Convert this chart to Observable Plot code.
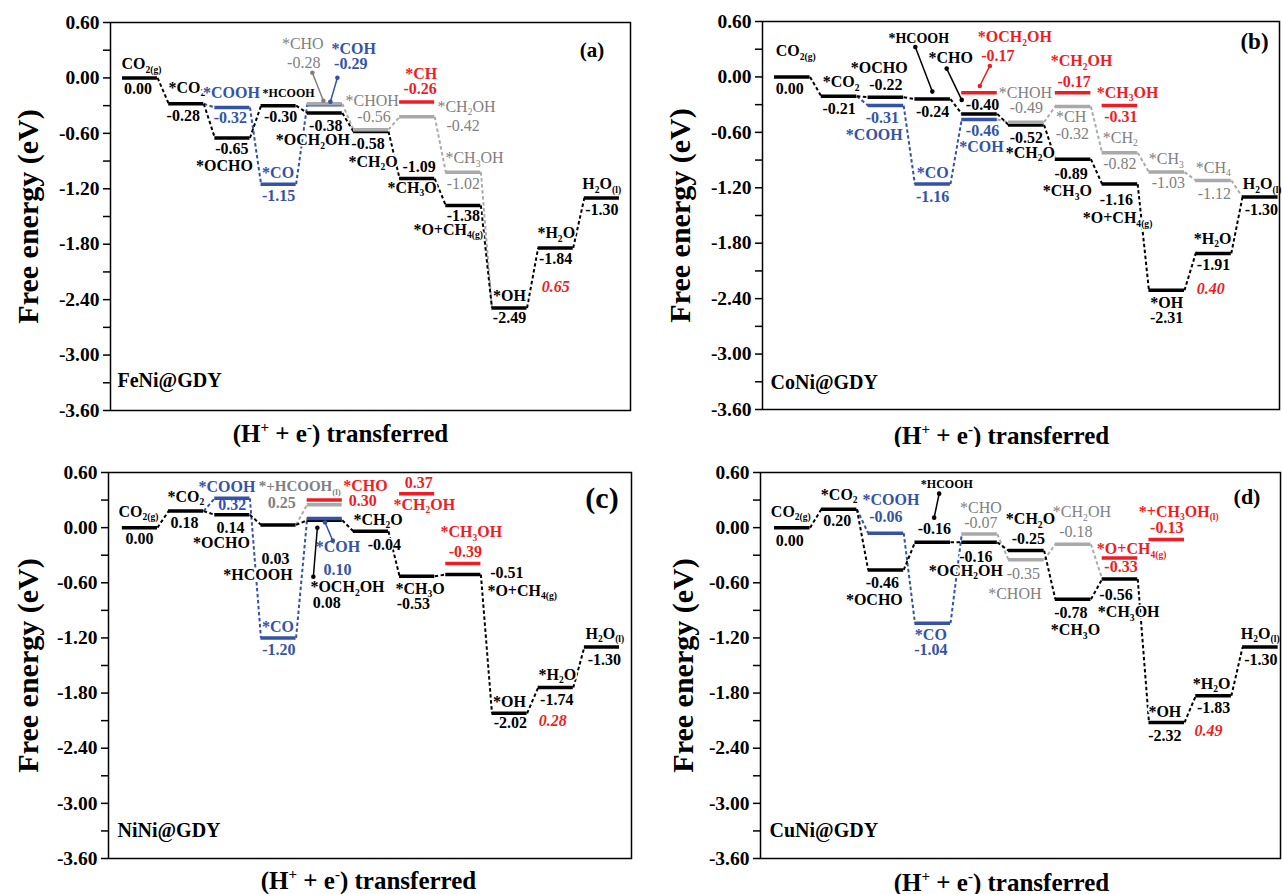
<!DOCTYPE html>
<html><head><meta charset="utf-8">
<script src="https://cdn.jsdelivr.net/npm/d3@7"></script>
<script src="https://cdn.jsdelivr.net/npm/@observablehq/plot@0.6"></script>
<style>
html,body{margin:0;padding:0;background:#fff;}
#root{position:relative;width:1282px;height:894px;overflow:hidden;font-family:"Liberation Serif","Times New Roman",serif;}
.panel{position:absolute;}
g[aria-label="y-axis tick label"] text{font-weight:bold;}
</style></head><body><div id="root"></div>
<script>
// ===================== DATA =====================
const panelKeys  = ["a", "b", "c", "d"];
const panelNames = ["FeNi@GDY", "CoNi@GDY", "NiNi@GDY", "CuNi@GDY"];
const panelTags  = ["(a)", "(b)", "(c)", "(d)"];
const yLabel = "Free energy (eV)";
const xLabel = "(H[+] + e[-]) transferred";
const yTickValues = d3.range(-12, 3).map(i => i * 0.3);   // -3.60 ... 0.60

// (a) FeNi@GDY  — free energies (eV) by (H+ + e-) step 0..10
const aBlack = [0.00, -0.28, -0.65, -0.30, -0.38, -0.58, -1.09, -1.38, -2.49, -1.84, -1.30];
const aBlue  = [null, null, -0.32, -1.15, -0.29, null, null, null, null, null, null];
const aGray  = [null, null, null, null, -0.28, -0.56, -0.42, -1.02, null, null, null];
const aRed   = [null, null, null, null, null, null, -0.26, null, null, null, null];
// (b) CoNi@GDY
const bBlack = [0.00, -0.21, -0.22, -0.24, -0.40, -0.52, -0.89, -1.16, -2.31, -1.91, -1.30];
const bBlue  = [null, null, -0.31, -1.16, -0.46, null, null, null, null, null, null];
const bGray  = [null, null, null, null, null, -0.49, -0.32, -0.82, -1.03, -1.12, null];
const bRed   = [null, null, null, null, -0.17, null, -0.17, -0.31, null, null, null];
// (c) NiNi@GDY
const cBlack = [0.00, 0.18, 0.14, 0.03, 0.08, -0.04, -0.53, -0.51, -2.02, -1.74, -1.30];
const cBlue  = [null, null, 0.32, -1.20, 0.10, null, null, null, null, null, null];
const cGray  = [null, null, null, null, 0.25, null, null, null, null, null, null];
const cRed   = [null, null, null, null, 0.30, null, 0.37, -0.39, null, null, null];
// (d) CuNi@GDY  (the *OH bar is drawn at about -2.12 in the picture, labelled -2.32)
const dBlack = [0.00, 0.20, -0.46, -0.16, -0.16, -0.25, -0.78, -0.56, -2.12, -1.83, -1.30];
const dBlue  = [null, null, -0.06, -1.04, null, null, null, null, null, null, null];
const dGray  = [null, null, null, null, -0.07, -0.35, -0.18, null, null, null, null];
const dRed   = [null, null, null, null, null, null, null, -0.33, -0.13, null, null];

// extra dashed connections [fromSeries, fromStep, toSeries, toStep, colour]
const aLinks = [["k",1,"b",2,"b"],["b",2,"b",3,"b"],["b",3,"b",4,"b"],["g",4,"g",5,"g"],["g",5,"g",6,"g"],["g",6,"g",7,"g"],["g",7,"k",8,"g"]];
const bLinks = [["k",1,"b",2,"b"],["b",2,"b",3,"b"],["b",3,"b",4,"b"],["b",4,"g",5,"g"],["g",5,"g",6,"g"],["g",6,"g",7,"g"],["g",7,"g",8,"g"],["g",8,"g",9,"g"],["g",9,"k",10,"g"]];
const cLinks = [["k",1,"b",2,"b"],["b",2,"b",3,"b"],["b",3,"b",4,"b"],["k",3,"g",4,"g"]];
const dLinks = [["k",1,"b",2,"b"],["b",2,"b",3,"b"],["b",3,"g",4,"b"],["g",4,"g",5,"g"],["g",5,"g",6,"g"],["g",6,"k",7,"g"]];

// labels: [series, step, text ("#" = value), dx px, dy px, options]
const S = {a:"start"};
const aLabels = [
 ["k",0,"CO{2(g)}",-18.5,-14,S],["k",0,"#",-2,11],
 ["k",1,"*CO{2}",-17.7,-16,S],["k",1,"#",-3,12],
 ["b",2,"*COOH",-1,-14.6],["b",2,"#",-2,10.5],["k",2,"#",-0.5,11],["k",2,"*OCHO",-8,28],
 ["k",3,"*HCOOH",-16,-12,{a:"start",fs:12}],["k",3,"#",2,11],["b",3,"*CO",-0.5,-11],["b",3,"#",0,12],
 ["g",4,"*CHO",-22,-60],["g",4,"#",-21,-41],["b",4,"*COH",29,-56],["b",4,"#",26,-41],
 ["k",4,"#",1,13],["k",4,"*OCH{2}OH",-49,27,S],
 ["g",5,"*CHOH",-25.5,-29,S],["g",5,"#",3,-13],["k",5,"#",-3,12.5],["k",5,"*CH{2}O",-22.5,30,S],
 ["r",6,"*CH",4,-28],["r",6,"#",3,-13],["g",6,"*CH{2}OH",20.3,-10,S],["g",6,"#",46,9],
 ["k",6,"#",2,-12],["k",6,"*CH{3}O",-29.7,9,S],
 ["g",7,"*CH{3}OH",-17.9,-14,S],["g",7,"#",0,12],["k",7,"#",0,10],["k",7,"*O+CH{4(g)}",-49.9,24,S],
 ["k",8,"*OH",0,-12],["k",8,"#",0,10],
 ["k",9,"*H{2}O",-18.3,-15,S],["k",9,"#",0,11],["k",9,"0.65",0,39,{lim:1}],
 ["k",10,"H{2}O{(l)}",-19.5,-14,S],["k",10,"#",0,12]
];
const bLabels = [
 ["k",0,"CO{2(g)}",-16.5,-26,S],["k",0,"#",-2.5,11.5],
 ["k",1,"*CO{2}",-16.3,-14,S],["k",1,"#",0,13],
 ["k",2,"*OCHO",-6.6,-29],["k",2,"#",0,-12],["b",2,"#",-3.5,12.5],["b",2,"*COOH",-11.6,29],
 ["k",3,"*HCOOH",-13.9,-61,{fs:14}],["k",3,"#",0,13],["b",3,"*CO",0,-11],["b",3,"#",0,13],
 ["k",4,"*CHO",-28.7,-56],["r",4,"*OCH{2}OH",-1.7,-55.7,S],["r",4,"#",18.3,-36.7],
 ["k",4,"#",3,-9],["b",4,"#",3,11.5],["b",4,"*COH",2,27.5],
 ["g",5,"*CHOH",-27.5,-29,S],["g",5,"#",0,-14],["k",5,"#",0,13],["k",5,"*CH{2}O",-20.5,27.5,S],
 ["r",6,"*CH{2}OH",-22.3,-31.7,S],["r",6,"#",1,-10.7],["g",6,"*CH",-2,10.4],["g",6,"#",-0.8,27],
 ["k",6,"#",-2,14.3],["k",6,"*CH{3}O",-30.3,32,S],
 ["r",7,"*CH{3}OH",-23.1,-13,S],["r",7,"#",1,11.4],["g",7,"*CH{2}",-17.1,-15,S],["g",7,"#",0,10.7],
 ["k",7,"#",-3.5,16],["k",7,"*O+CH{4(g)}",-37.1,34,S],
 ["g",8,"*CH{3}",-17.9,-13,S],["g",8,"#",1.6,11],["k",8,"*OH",0,13],["k",8,"#",0,28],
 ["g",9,"*CH{4}",-17.7,-13,S],["g",9,"#",0.8,13],["k",9,"*H{2}O",-19.7,-15,S],["k",9,"#",0,11.5],
 ["k",9,"0.40",-2.7,35.5,{lim:1}],
 ["k",10,"H{2}O{(l)}",-17.5,-13,S],["k",10,"#",1,13]
];
const cLabels = [
 ["k",0,"CO{2(g)}",-21.5,-16,S],["k",0,"#",-0.5,11],
 ["k",1,"*CO{2}",-18.7,-14.5,S],["k",1,"#",-1.7,11.5],
 ["b",2,"*COOH",-5.4,-11.6],["b",2,"#",0,7],["k",2,"#",-1.9,13],["k",2,"*OCHO",-10.9,28],
 ["k",3,"#",-3,34],["k",3,"*HCOOH",-20.6,50],["b",3,"*CO",-0.5,-11],["b",3,"#",0.4,12],
 ["g",4,"*+HCOOH{(l)}",-66,-18,{a:"start",w:"bold",fs:15}],["g",4,"#",-43,-2,{w:"bold"}],
 ["r",4,"*CHO",18.5,-14.4,S],["r",4,"#",38,0.6],
 ["b",4,"*COH",13.2,28],["b",4,"#",12.7,51],
 ["k",4,"*OCH{2}OH",-14.3,67,S],["k",4,"#",2,83],
 ["k",5,"*CH{2}O",-17.5,-11.7,S],["k",5,"#",13.5,14],
 ["r",6,"#",1.5,-11],["r",6,"*CH{2}OH",-23.7,11,S],["k",6,"*CH{3}O",-21.7,12.3,S],["k",6,"#",-3.7,28],
 ["r",7,"*CH{3}OH",-22.9,-31.3,S],["r",7,"#",2,-12],["k",7,"#",43.6,-1.4],["k",7,"*O+CH{4(g)}",24.1,16,S],
 ["k",8,"*OH",0,-11.6],["k",8,"#",0.9,10],
 ["k",9,"*H{2}O",-17.3,-13,S],["k",9,"#",1,12],["k",9,"0.28",-3,33,{lim:1}],
 ["k",10,"H{2}O{(l)}",-16.5,-13.5,S],["k",10,"#",2.5,12.5]
];
const dLabels = [
 ["k",0,"CO{2(g)}",-21.5,-16,S],["k",0,"#",-2.5,13],
 ["k",1,"*CO{2}",-18.3,-14.6,S],["k",1,"#",-1.8,12],
 ["b",2,"*COOH",5,-33.5],["b",2,"#",0,-16.5],["k",2,"#",-3.6,13],["k",2,"*OCHO",-11.6,30],
 ["k",3,"*HCOOH",14.1,-57.7,{fs:12}],["k",3,"#",1.6,-13.7],["b",3,"*CO",-1.9,11.4],["b",3,"#",-1.9,26.4],
 ["g",4,"*CHO",1.3,-26],["g",4,"#",1.3,-11],["k",4,"#",-3.7,15],["k",4,"*OCH{2}OH",-50.7,28.5,S],
 ["k",5,"*CH{2}O",-20.5,-31.5,S],["k",5,"#",2,-12],["g",5,"#",-3,14],["g",5,"*CHOH",-11.5,34],
 ["g",6,"*CH{2}OH",-20.3,-32,S],["g",6,"#",2.7,-12.5],["k",6,"#",-2.3,14],["k",6,"*CH{3}O",-22.3,31,S],
 ["r",7,"*O+CH{4(g)}",-23.1,-9,S],["r",7,"#",1,9],["k",7,"#",-4,15.5],["k",7,"*CH{3}OH",-22.1,33,S],
 ["r",8,"*+CH{3}OH{(l)}",-27.9,-28,S],["r",8,"#",0,-11.5],
 ["k",8,"*OH",-1.9,-11],["k",8,"-2.32",-1.9,13],
 ["k",9,"*H{2}O",-20.7,-12,S],["k",9,"#",0,12.5],["k",9,"0.49",-5,35,{lim:1}],
 ["k",10,"H{2}O{(l)}",-19.5,-13.5,S],["k",10,"#",0.5,12.5]
];

// leader lines: [series, step, fraction along bar, dy of bar end px, dx of far end px, dy of far end px]
const aLeaders = [["g",4,0.46,-3,-11,-31],["b",4,0.66,-3,7,-27]];
const bLeaders = [["k",3,0.49,-7.5,-17,-52],["k",4,0.0,-14,-15,-45.3],["r",4,0.51,-6.7,10,-26.7]];
const cLeaders = [["b",4,0.51,4,7.7,22.2],["k",4,0.29,7.4,-4,56.4]];
const dLeaders = [["k",3,0.54,-24.7,5,-48.7]];

// ===================== LAYOUT / STYLE =====================
const LAYOUT = {
  a: {left:0,   top:0,   W:641, H:447, mL:110, mR:11, mT:22, mB:37, xDom:[-0.26, 11.0],
      tag:{dx:-38.5, dy:27.5, fs:21}, name:{dx:7, dy:-30}, ylab:{dx:-82}, xlab:{dx:-30, dy:23}},
  b: {left:641, top:0,   W:641, H:447, mL:121, mR:3,  mT:21, mB:38, xDom:[-0.256, 10.79],
      tag:{dx:-25, dy:20.5, fs:23}, name:{dx:8, dy:-27}, ylab:{dx:-82}, xlab:{dx:-19.5, dy:26}},
  c: {left:0,   top:447, W:641, H:447, mL:108, mR:10, mT:25, mB:36, xDom:[-0.30, 11.02],
      tag:{dx:-29.5, dy:25.5, fs:30}, name:{dx:9, dy:-28}, ylab:{dx:-80}, xlab:{dx:-1.5, dy:22}},
  d: {left:641, top:447, W:641, H:447, mL:119, mR:2,  mT:25, mB:36, xDom:[-0.30, 10.81],
      tag:{dx:-33.5, dy:24.5, fs:22}, name:{dx:9, dy:-28}, ylab:{dx:-77}, xlab:{dx:-19, dy:24}}
};
const BW = 0.76;
const TXT  = {k:"#000000", b:"#3553a6", g:"#808080", r:"#ee1d23"};
const BAR  = {k:"#000000", b:"#3553a6", g:"#a9a9a9", r:"#ee1d23"};
const LINE = {k:"#000000", b:"#3553a6", g:"#ababab"};
const FONT = "'Liberation Serif','Times New Roman',serif";

const fmtVal = v => (Math.round(v * 100) / 100).toFixed(2).replace("-0.00", "0.00");
const fmtTick = v => { const k = Math.round(v / 0.3); return (k % 2 === 0) ? fmtVal(v) : ""; };

function richify(svg) {
  const NS = "http://www.w3.org/2000/svg";
  svg.querySelectorAll("text").forEach(t => {
    const s = t.textContent;
    if (!/[{\[]/.test(s)) return;
    const fs = parseFloat(getComputedStyle(t).fontSize) || 16;
    while (t.firstChild) t.removeChild(t.firstChild);
    const re = /\{([^}]*)\}|\[([^\]]*)\]|([^{\[]+)/g;
    let m, shift = 0;
    while ((m = re.exec(s)) !== null) {
      const ts = document.createElementNS(NS, "tspan");
      let target = 0, txt, small = false;
      if (m[1] !== undefined) { txt = m[1]; target = fs * 0.22; small = true; }
      else if (m[2] !== undefined) { txt = m[2]; target = -fs * 0.38; small = true; }
      else txt = m[3];
      ts.textContent = txt;
      if (small) ts.setAttribute("font-size", (fs * 0.6).toFixed(1));
      const d = target - shift;
      if (d) ts.setAttribute("dy", d.toFixed(2));
      shift = target;
      t.appendChild(ts);
    }
  });
}

function makePanel(idx, D) {
  const key = panelKeys[idx];
  const L = LAYOUT[key];
  const pxX = (L.W - L.mL - L.mR) / (L.xDom[1] - L.xDom[0]);
  const pxY = (L.H - L.mT - L.mB) / 4.2;
  const Ser = {k: D.black, b: D.blue, g: D.gray, r: D.red};
  const levels = [];
  ["k","b","g","r"].forEach(s => Ser[s].forEach((E, i) => { if (E != null) levels.push({s, x1: i, x2: i + BW, E}); }));
  const links = d3.range(10).map(i => ({c:"k", x1: i + BW, y1: Ser.k[i], x2: i + 1, y2: Ser.k[i + 1]}))
    .concat(D.links.map(([s1, i1, s2, i2, c]) => ({c, x1: i1 + BW, y1: Ser[s1][i1], x2: i2, y2: Ser[s2][i2]})));

  const marks = [];
  marks.push(Plot.axisY({ticks: yTickValues, tickFormat: fmtTick, tickSize: 7, tickPadding: 4,
    fontSize: 19.5, fontWeight: "bold", label: null, strokeWidth: 1.5}));
  for (const c of ["g","b","k"]) {
    marks.push(Plot.link(links.filter(l => l.c === c), {x1:"x1", y1:"y1", x2:"x2", y2:"y2",
      stroke: LINE[c], strokeWidth: 2, strokeDasharray: "3.5,2.5"}));
  }
  // labels
  D.labels.forEach(([s, i, txt, dx, dy, o = {}]) => {
    const E = Ser[s][i];
    const text = txt === "#" ? fmtVal(E) : txt;
    const lim = !!o.lim;
    marks.push(Plot.text([{x: i + BW / 2 + dx / pxX, y: E - dy / pxY, t: text}], {
      x: "x", y: "y", text: "t",
      fill: lim ? TXT.r : TXT[s],
      fontSize: o.fs || 16,
      fontWeight: o.w || (s === "g" && !lim ? "normal" : "bold"),
      fontStyle: lim ? "italic" : "normal",
      textAnchor: o.a || "middle",
      stroke: "white", strokeWidth: 3, paintOrder: "stroke"
    }));
  });
  // bars
  for (const s of ["k","b","g","r"]) {
    marks.push(Plot.ruleY(levels.filter(l => l.s === s), {y:"E", x1:"x1", x2:"x2", stroke: BAR[s], strokeWidth: 3.5}));
  }
  // leaders
  const lead = D.leaders.map(([s, i, f, dyb, dx, dy]) => {
    const E = Ser[s][i];
    const x = i + f * BW;
    return {c: TXT[s], x1: x, y1: E - dyb / pxY, x2: x + dx / pxX, y2: E - dy / pxY};
  });
  marks.push(Plot.link(lead, {x1:"x1", y1:"y1", x2:"x2", y2:"y2", stroke: "c", strokeWidth: 1.5}));
  marks.push(Plot.dot(lead, {x:"x1", y:"y1", r: 2.3, fill: "c"}));
  marks.push(Plot.dot(lead, {x:"x2", y:"y2", r: 2.3, fill: "c"}));
  // frame & titles
  marks.push(Plot.frame({stroke: "black", strokeWidth: 1.5}));
  marks.push(Plot.text([panelTags[idx]], {frameAnchor: "top-right", text: d => d, dx: L.tag.dx, dy: L.tag.dy,
    textAnchor: "middle", lineAnchor: "middle", fontSize: L.tag.fs, fontWeight: "bold", fill: "black"}));
  marks.push(Plot.text([panelNames[idx]], {frameAnchor: "bottom-left", text: d => d, dx: L.name.dx, dy: L.name.dy,
    textAnchor: "start", lineAnchor: "middle", fontSize: 20, fontWeight: "bold", fill: "black"}));
  marks.push(Plot.text([yLabel], {frameAnchor: "left", text: d => d, dx: L.ylab.dx, rotate: -90,
    textAnchor: "middle", lineAnchor: "middle", fontSize: 30, fontWeight: "bold", fill: "black"}));
  marks.push(Plot.text([xLabel], {frameAnchor: "bottom", text: d => d, dx: L.xlab.dx, dy: L.xlab.dy,
    textAnchor: "middle", lineAnchor: "middle", fontSize: 25, fontWeight: "bold", fill: "black"}));

  const svg = Plot.plot({
    width: L.W, height: L.H,
    marginLeft: L.mL, marginRight: L.mR, marginTop: L.mT, marginBottom: L.mB,
    x: {domain: L.xDom, axis: null},
    y: {domain: [-3.6, 0.6]},
    color: {type: "identity"},
    style: {fontFamily: FONT, background: "white", overflow: "visible"},
    marks
  });
  const div = document.createElement("div");
  div.className = "panel";
  div.style.left = L.left + "px";
  div.style.top = L.top + "px";
  div.appendChild(svg);
  document.getElementById("root").appendChild(div);
  richify(svg);
}

makePanel(0, {black: aBlack, blue: aBlue, gray: aGray, red: aRed, links: aLinks, labels: aLabels, leaders: aLeaders});
makePanel(1, {black: bBlack, blue: bBlue, gray: bGray, red: bRed, links: bLinks, labels: bLabels, leaders: bLeaders});
makePanel(2, {black: cBlack, blue: cBlue, gray: cGray, red: cRed, links: cLinks, labels: cLabels, leaders: cLeaders});
makePanel(3, {black: dBlack, blue: dBlue, gray: dGray, red: dRed, links: dLinks, labels: dLabels, leaders: dLeaders});
</script></body></html>
